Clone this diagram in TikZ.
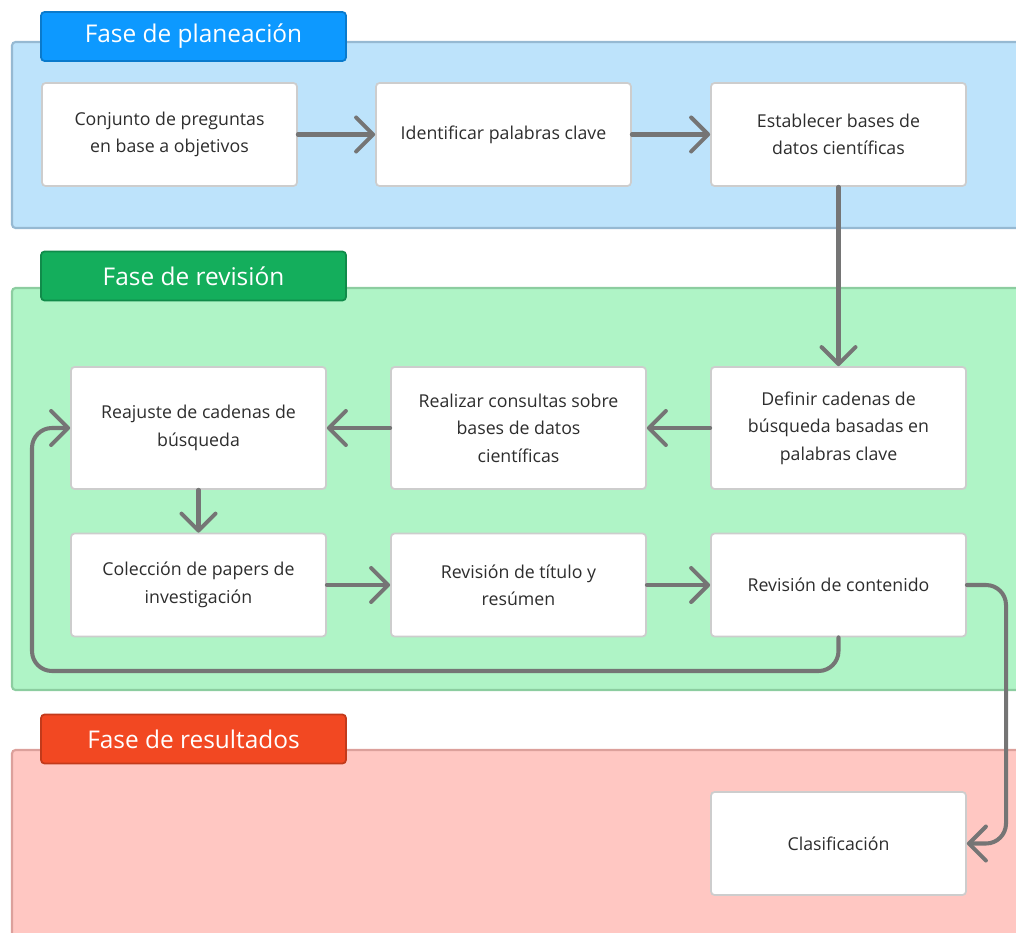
\documentclass[tikz,border=0pt]{standalone}
\usepackage{fontspec}
\setmainfont{Open Sans}
\usetikzlibrary{arrows.meta}

\definecolor{planfill}{RGB}{189,227,251}
\definecolor{planline}{RGB}{150,185,210}
\definecolor{plantag}{RGB}{13,153,255}
\definecolor{revfill}{RGB}{175,244,198}
\definecolor{revline}{RGB}{140,205,160}
\definecolor{revtag}{RGB}{20,174,92}
\definecolor{resfill}{RGB}{255,199,194}
\definecolor{resline}{RGB}{220,160,155}
\definecolor{restag}{RGB}{242,72,34}
\definecolor{boxline}{RGB}{205,205,205}
\definecolor{flowgray}{RGB}{117,117,117}
\definecolor{textgray}{RGB}{45,45,45}

\tikzset{
  phase/.style={line width=1.2pt, rounded corners=2pt},
  tag/.style={draw, line width=1pt, rounded corners=2pt, text=white,
    minimum width=6.1cm, minimum height=0.98cm, inner sep=0pt,
    font=\fontsize{13.9}{16}\selectfont},
  task/.style={draw=boxline, fill=white, line width=1pt, rounded corners=2pt,
    minimum width=5.1cm, minimum height=2.06cm, align=center,
    text=textgray, font=\fontsize{10.1}{15.6}\selectfont},
  tall/.style={task, minimum height=2.44cm},
  flow/.style={draw=flowgray, line width=2.3pt, line cap=round,
    -{Straight Barb[length=3.4mm, width=6.8mm, line cap=round, line join=round]}},
}

\begin{document}
\begin{tikzpicture}[x=0.02cm, y=-0.02cm]
    \useasboundingbox (0,0) rectangle (1016,932);
    \clip (0,0) rectangle (1016,932);
    % Phase areas
    \draw[phase, fill=planfill, draw=planline] (12,42) rectangle (1040,228);
    \draw[phase, fill=revfill, draw=revline] (12,288) rectangle (1040,690);
    \draw[phase, fill=resfill, draw=resline] (12,750) rectangle (1040,960);
    \node[tag, fill=plantag, draw=plantag!80!black] (tplan) at (193.5,36.5) {Fase de planeación};
    \node[tag, fill=revtag, draw=revtag!80!black] (trev) at (193.5,276) {Fase de revisión};
    \node[tag, fill=restag, draw=restag!80!black] (tres) at (193.5,739) {Fase de resultados};

    % Planning
    \node[task] (a1) at (169.5,134.5) {Conjunto de preguntas\\en base a objetivos};
    \node[task] (a2) at (503.5,134.5) {Identificar palabras clave};
    \node[task] (a3) at (838.5,134.5) {Establecer bases de\\datos científicas};

    % Review
    \node[tall] (b3) at (838.5,428) {Definir cadenas de\\búsqueda basadas en\\palabras clave};
    \node[tall] (b2) at (518.5,428) {Realizar consultas sobre\\bases de datos\\científicas};
    \node[tall] (b1) at (198.5,428) {Reajuste de cadenas de\\búsqueda};
    \node[task] (c1) at (198.5,585) {Colección de papers de\\investigación};
    \node[task] (c2) at (518.5,585) {Revisión de título y\\resúmen};
    \node[task] (c3) at (838.5,585) {Revisión de contenido};

    % Results
    \node[task] (d1) at (838.5,843.5) {Clasificación};

    % Connectors
    \foreach \from/\to in {a1/a2, a2/a3, a3/b3, b3/b2, b2/b1, b1/c1, c1/c2, c2/c3}
        \draw[flow] (\from) -- (\to);
    \coordinate (back) at (32,671);
    \coordinate (side) at (1006,585);
    \draw[flow, rounded corners=0.4cm] (c3.south) |- (back) |- (b1.west);
    \draw[flow, rounded corners=0.4cm] (c3.east) -- (side) |- (d1.east);
\end{tikzpicture}
\end{document}
